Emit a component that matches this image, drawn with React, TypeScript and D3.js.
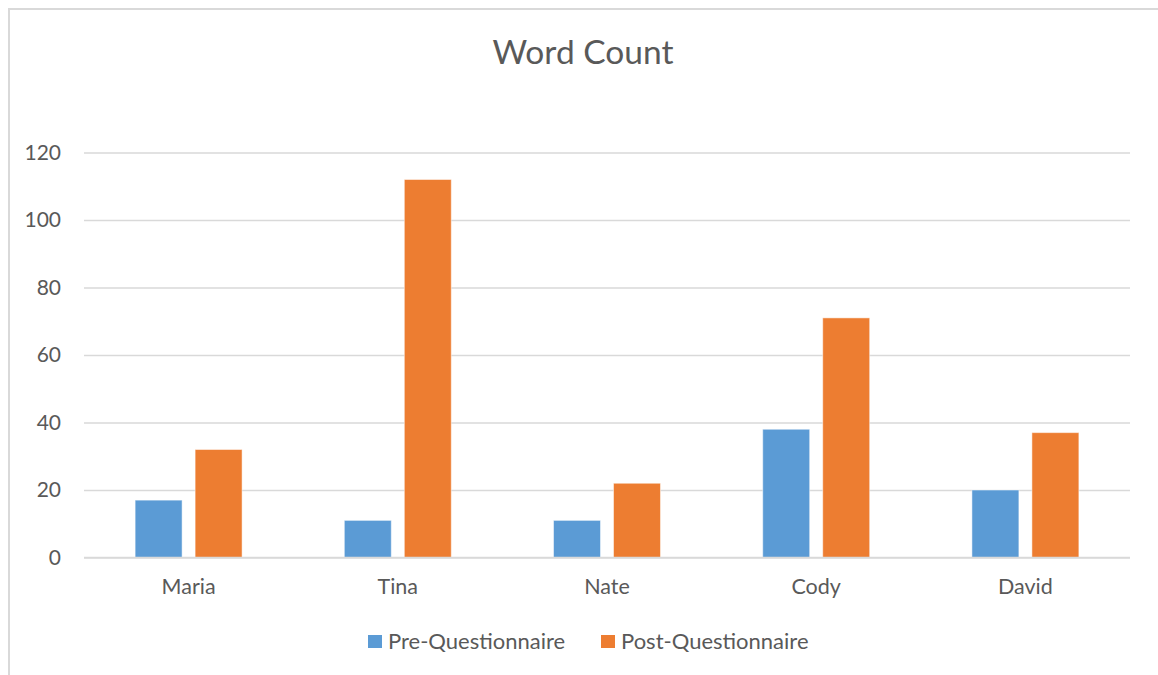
import { useRef, useEffect } from 'react'
import * as d3 from 'd3'

const CATEGORIES = ['Maria', 'Tina', 'Nate', 'Cody', 'David']
const SERIES = ['Pre-Questionnaire', 'Post-Questionnaire']
const PRE_VALUES = [17, 11, 11, 38, 20]
const POST_VALUES = [32, 112, 22, 71, 37]
const Y_TICKS = [0, 20, 40, 60, 80, 100, 120]

const W = 1158
const H = 675
const PLOT = { left: 84, right: 1130, top: 152.5, bottom: 557.5 }

const COLORS = ['#5B9BD5', '#ED7D31']
const TEXT = '#595959'
const GRID = '#D9D9D9'
const FONT = "Lato, 'Open Sans', sans-serif"

export default function App() {
  const svgRef = useRef<SVGSVGElement>(null)

  useEffect(() => {
    const svg = svgRef.current
    if (!svg) return
    const sel = d3.select(svg)
    sel.selectAll('*').remove()

    // chart frame (right/bottom edges fall outside the picture)
    sel.append('rect')
      .attr('x', 9).attr('y', 9)
      .attr('width', W + 20).attr('height', H + 20)
      .attr('fill', '#fff')
      .attr('stroke', GRID)
      .attr('stroke-width', 2)

    sel.append('text')
      .attr('x', 583).attr('y', 64)
      .attr('text-anchor', 'middle')
      .attr('fill', TEXT)
      .attr('font-size', '33.5px')
      .attr('font-family', FONT)
      .text('Word Count')

    const x0 = d3.scaleBand<string>().domain(CATEGORIES).range([PLOT.left, PLOT.right]).padding(0)
    const x1 = d3.scaleBand<string>().domain(SERIES).range([0, x0.bandwidth()])
      .paddingInner(0.217).paddingOuter(0.852)
    const y = d3.scaleLinear().domain([0, 120]).range([PLOT.bottom, PLOT.top])

    // gridlines + y labels
    const yAxis = d3.axisLeft(y).tickValues(Y_TICKS).tickSize(-(PLOT.right - PLOT.left)).tickPadding(23)
    sel.append('g')
      .attr('transform', `translate(${PLOT.left},0)`)
      .call(yAxis)
      .call((g) => g.select('.domain').remove())
      .call((g) => g.selectAll('.tick line').attr('stroke', GRID).attr('stroke-width', 1.5))
      .call((g) => g.selectAll('.tick text').attr('fill', TEXT).attr('font-size', '21px').attr('font-family', FONT))

    const data = CATEGORIES.map((c, i) => ({ cat: c, vals: [PRE_VALUES[i], POST_VALUES[i]] }))

    const groups = sel.append('g').selectAll('g')
      .data(data)
      .join('g')
      .attr('transform', (d) => `translate(${x0(d.cat)},0)`)

    groups.selectAll('rect')
      .data((d) => d.vals.map((v, j) => ({ s: SERIES[j], v, j })))
      .join('rect')
      .attr('x', (d) => x1(d.s)!)
      .attr('y', (d) => y(d.v))
      .attr('width', x1.bandwidth())
      .attr('height', (d) => y(0) - y(d.v))
      .attr('fill', (d) => COLORS[d.j])
      .attr('stroke', '#fff')
      .attr('stroke-opacity', 0.5)
      .attr('stroke-width', 1)

    // baseline redrawn over bars
    sel.append('line')
      .attr('x1', PLOT.left).attr('x2', PLOT.right)
      .attr('y1', y(0)).attr('y2', y(0))
      .attr('stroke', GRID).attr('stroke-width', 1.5)

    // category labels
    const xAxis = d3.axisBottom(x0).tickSize(0).tickPadding(21)
    sel.append('g')
      .attr('transform', `translate(0,${PLOT.bottom})`)
      .call(xAxis)
      .call((g) => g.select('.domain').remove())
      .call((g) => g.selectAll('.tick text').attr('fill', TEXT).attr('font-size', '21.5px').attr('font-family', FONT))

    // legend
    const legendX = [368, 601]
    const legend = sel.append('g')
    SERIES.forEach((s, i) => {
      const lg = legend.append('g').attr('transform', `translate(${legendX[i]},635)`)
      lg.append('rect').attr('width', 14).attr('height', 13).attr('fill', COLORS[i])
      lg.append('text')
        .attr('x', 20).attr('y', 6.5)
        .attr('dy', '0.35em')
        .attr('fill', TEXT)
        .attr('font-size', '22px')
        .attr('font-family', FONT)
        .text(s)
    })
  }, [])

  return (
    <svg
      ref={svgRef}
      width={W}
      height={H}
      style={{ position: 'absolute', left: 0, top: 0, background: '#fff' }}
    />
  )
}
